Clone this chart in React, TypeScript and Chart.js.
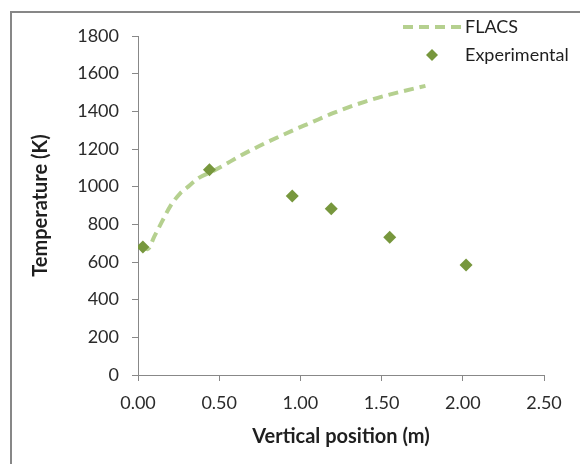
import React, { useEffect, useRef } from "react";
import { Chart, registerables } from "chart.js";

Chart.register(...registerables);

// Experimental measurements
const expX = [0.03, 0.44, 0.95, 1.19, 1.55, 2.02];
const expY = [680, 1090, 950, 883, 732, 584];

// FLACS simulation curve
const flacsX = [0.02, 0.06, 0.1, 0.15, 0.2, 0.26, 0.3, 0.37, 0.45, 0.52, 0.62, 0.71, 0.8, 0.89, 0.97, 1.06, 1.2, 1.4, 1.59, 1.77];
const flacsY = [685, 668, 735, 818, 898, 965, 994, 1044, 1078, 1110, 1159, 1200, 1238, 1274, 1305, 1338, 1390, 1452, 1498, 1535];

const seriesNames = ["FLACS", "Experimental"];
const xTitle = "Vertical position (m)";
const yTitle = "Temperature (K)";

const LINE_COLOR = "#b5d08f";
const MARK_COLOR = "#77973d";
const FONT = "Lato, 'Open Sans', sans-serif";

const legendPlugin = {
  id: "customLegend",
  afterDraw(chart: any) {
    const ctx = chart.ctx;
    ctx.save();
    ctx.strokeStyle = LINE_COLOR;
    ctx.lineWidth = 4;
    ctx.setLineDash([10, 6]);
    ctx.beginPath();
    ctx.moveTo(403, 27);
    ctx.lineTo(461, 27);
    ctx.stroke();
    ctx.setLineDash([]);
    ctx.fillStyle = MARK_COLOR;
    ctx.beginPath();
    ctx.moveTo(432, 49);
    ctx.lineTo(438, 55);
    ctx.lineTo(432, 61);
    ctx.lineTo(426, 55);
    ctx.closePath();
    ctx.fill();
    ctx.fillStyle = "#1f1f1f";
    ctx.font = `18px ${FONT}`;
    ctx.textBaseline = "middle";
    ctx.textAlign = "left";
    ctx.fillText(seriesNames[0], 465, 27);
    ctx.fillText(seriesNames[1], 465, 55);
    ctx.restore();
  },
};

export default function App() {
  const ref = useRef<HTMLCanvasElement | null>(null);
  useEffect(() => {
    if (!ref.current) return;
    const chart = new Chart(ref.current, {
      type: "scatter",
      data: {
        datasets: [
          {
            label: seriesNames[1],
            data: expX.map((x, i) => ({ x, y: expY[i] })),
            pointStyle: "rectRot",
            pointRadius: 6.5,
            pointBackgroundColor: MARK_COLOR,
            pointBorderColor: MARK_COLOR,
            pointBorderWidth: 0,
            showLine: false,
            order: 1,
          },
          {
            label: seriesNames[0],
            data: flacsX.map((x, i) => ({ x, y: flacsY[i] })),
            showLine: true,
            pointRadius: 0,
            borderColor: LINE_COLOR,
            borderWidth: 4,
            borderDash: [10, 6],
            cubicInterpolationMode: "monotone",
            order: 2,
          } as any,
        ],
      },
      options: {
        responsive: false,
        animation: false,
        devicePixelRatio: 1,
        layout: { padding: { top: 36, right: 36, left: 0, bottom: 0 } },
        plugins: { legend: { display: false }, tooltip: { enabled: false } },
        scales: {
          x: {
            type: "linear",
            min: 0,
            max: 2.5,
            afterFit: (s: any) => {
              s.height = 89;
            },
            ticks: {
              stepSize: 0.5,
              padding: 11,
              color: "#2a2a2a",
              font: { family: FONT, size: 18 },
              callback: (v: any) => Number(v).toFixed(2),
            },
            grid: { drawOnChartArea: false, tickLength: 6, color: "#888" },
            border: { display: true, color: "#888", width: 1 },
            title: {
              display: true,
              text: xTitle,
              color: "#1f1f1f",
              font: { family: FONT, size: 20, weight: "bold" },
              padding: { top: 0, bottom: 15 },
            },
          },
          y: {
            type: "linear",
            min: 0,
            max: 1800,
            afterFit: (s: any) => {
              s.width = 138;
            },
            ticks: {
              stepSize: 200,
              padding: 13,
              color: "#2a2a2a",
              font: { family: FONT, size: 18 },
              callback: (v: any) => String(v),
            },
            grid: { drawOnChartArea: false, tickLength: 6, color: "#888" },
            border: { display: true, color: "#888", width: 1 },
            title: {
              display: true,
              text: yTitle,
              color: "#1f1f1f",
              font: { family: FONT, size: 20, weight: "bold" },
              padding: { top: 29, bottom: 0 },
            },
          },
        },
      },
      plugins: [legendPlugin],
    });
    return () => chart.destroy();
  }, []);

  return (
    <div style={{ position: "fixed", left: 0, top: 0, width: 580, height: 464, background: "#fff", overflow: "hidden" }}>
      <div
        style={{
          position: "absolute",
          left: 10,
          top: 11,
          width: 700,
          height: 700,
          borderLeft: "2px solid #878787",
          borderTop: "2px solid #878787",
        }}
      />
      <canvas ref={ref} width={580} height={464} style={{ position: "absolute", left: 0, top: 0 }} />
    </div>
  );
}
